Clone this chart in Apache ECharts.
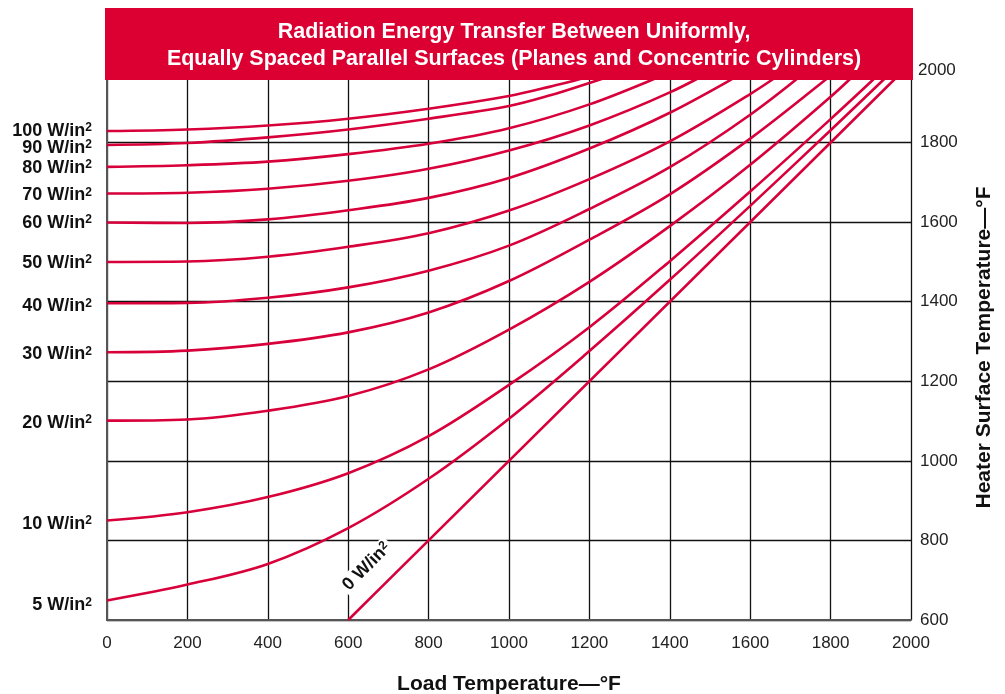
<!DOCTYPE html>
<html>
<head>
<meta charset="utf-8">
<title>Radiation Energy Transfer</title>
<script src="https://cdn.jsdelivr.net/npm/echarts@6/dist/echarts.min.js"></script>
<style>
  html, body { margin: 0; padding: 0; background: #fff; }
  #chart { width: 1005px; height: 694px; }
</style>
</head>
<body>
<div id="chart"></div>
<script>
// [load temperature °F, heater surface temperature °F]
const w100 = [[0, 1829], [200, 1833], [400, 1843], [600, 1860], [800, 1885], [1000, 1917], [1100, 1940], [1200, 1966], [1300, 2000]]
const w90 = [[0, 1794], [200, 1799], [400, 1813], [600, 1833], [800, 1860], [1000, 1892], [1100, 1918], [1200, 1950], [1350, 2000]]
const w80 = [[0, 1739], [200, 1743], [400, 1752], [600, 1771], [800, 1797], [1000, 1836], [1200, 1896], [1400, 1976], [1455, 2000]]
const w70 = [[0, 1672], [200, 1674], [400, 1684], [600, 1704], [800, 1734], [1000, 1780], [1200, 1843], [1400, 1926], [1540, 2000]]
const w60 = [[0, 1599], [200, 1598], [400, 1607], [600, 1630], [800, 1661], [1000, 1711], [1200, 1785], [1400, 1875], [1600, 1985], [1625, 2000]]
const w50 = [[0, 1500], [200, 1501], [400, 1513], [600, 1538], [800, 1572], [1000, 1629], [1200, 1708], [1400, 1803], [1600, 1922], [1715, 2000]]
const w40 = [[0, 1396], [200, 1397], [400, 1410], [600, 1436], [800, 1478], [1000, 1541], [1200, 1633], [1400, 1738], [1600, 1870], [1765, 2000]]
const w30 = [[0, 1273], [200, 1277], [400, 1294], [600, 1323], [800, 1373], [1000, 1452], [1200, 1556], [1400, 1670], [1600, 1810], [1800, 1968], [1840, 2000]]
const w20 = [[0, 1101], [200, 1104], [400, 1126], [600, 1163], [800, 1230], [1000, 1330], [1200, 1450], [1400, 1590], [1600, 1744], [1800, 1915], [1890, 2000]]
const w10 = [[0, 850], [200, 871], [400, 909], [600, 969], [800, 1062], [1000, 1191], [1200, 1336], [1400, 1502], [1600, 1677], [1800, 1859], [1950, 2000]]
const w5 = [[0, 649], [200, 689], [400, 741], [600, 831], [800, 955], [1000, 1106], [1200, 1276], [1400, 1455], [1600, 1641], [1800, 1831], [1975, 2000]]
const w0 = [[600, 600], [690, 690], [2000, 2000]]

const fluxLabels = ['100', '90', '80', '70', '60', '50', '40', '30', '20', '10', '5']
const fluxCurves = [w100, w90, w80, w70, w60, w50, w40, w30, w20, w10, w5]

const RED = '#D8003A'
const FONT = '"Liberation Sans", Arial, Helvetica, sans-serif'

// small vertical nudges so the left labels sit like the printed ones
const labelNudge = { '100': 0, '90': 3, '80': 1, '60': 0, '50': 1, '40': 3, '30': 2, '20': 2, '10': 3, '5': 5 }

const rich = {
  n: { fontFamily: FONT, fontSize: 18, fontWeight: 'bold', color: '#111', lineHeight: 18 },
  s: { fontFamily: FONT, fontSize: 12, fontWeight: 'bold', color: '#111', lineHeight: 10, verticalAlign: 'top' }
}

const series = fluxCurves.map(function(pts, k) {
  const q = fluxLabels[k]
  return {
    name: q + ' W/in²',
    type: 'line',
    yAxisIndex: 0,
    data: pts.map(function(p, i) {
      return i === 0 ? { value: p, label: { show: true } } : p
    }),
    smooth: 0.35,
    symbol: 'circle',
    symbolSize: 0,
    showSymbol: true,
    lineStyle: { color: RED, width: 2.6 },
    itemStyle: { color: RED },
    label: {
      show: false,
      position: 'left',
      distance: 15,
      offset: [0, labelNudge[q] !== undefined ? labelNudge[q] : 2],
      formatter: '{n|' + q + ' W/in}{s|2}',
      rich: rich
    },
    silent: true,
    z: 3
  }
})

// 0 W/in² line, label sits beside it
series.push({
  name: '0 W/in²',
  type: 'line',
  yAxisIndex: 0,
  data: w0.map(function(p, i) {
    return i === 1 ? {
      value: p,
      label: {
        show: true,
        position: 'inside',
        offset: [0, -25],
        rotate: 45,
        backgroundColor: '#fff',
        padding: [1, 3, 1, 3],
        formatter: '{n|0 W/in}{s|2}',
        rich: rich
      }
    } : p
  }),
  symbol: 'circle',
  symbolSize: 0,
  showSymbol: true,
  lineStyle: { color: RED, width: 2.6 },
  itemStyle: { color: RED },
  silent: true,
  z: 4
})

const chart = echarts.init(document.getElementById('chart'))
chart.setOption({
  animation: false,
  backgroundColor: '#fff',
  title: {
    text: 'Radiation Energy Transfer Between Uniformly,\nEqually Spaced Parallel Surfaces (Planes and Concentric Cylinders)',
    left: 509,
    top: 14,
    textAlign: 'center',
    z: 20,
    textStyle: {
      color: '#fff',
      fontFamily: FONT,
      fontSize: 21.5,
      fontWeight: 'bold',
      lineHeight: 27
    }
  },
  graphic: [
    {
      type: 'rect',
      left: 105,
      top: 8,
      z: 10,
      shape: { width: 808, height: 72 },
      style: { fill: '#DC0032' }
    },
    {
      type: 'text',
      left: 918,
      top: 62,
      z: 10,
      style: { text: '2000', fill: '#222', font: '17px ' + FONT }
    }
  ],
  grid: {
    left: 107,
    right: 94,
    top: 63,
    bottom: 74,
    outerBoundsMode: 'none'
  },
  xAxis: {
    type: 'value',
    min: 0,
    max: 2000,
    interval: 200,
    name: 'Load Temperature—°F',
    nameLocation: 'middle',
    nameGap: 54,
    nameTextStyle: { fontFamily: FONT, fontSize: 21, fontWeight: 'bold', color: '#111' },
    axisLine: { show: true, lineStyle: { color: '#555', width: 2 } },
    axisTick: { show: false },
    axisLabel: {
      margin: 15,
      fontFamily: FONT,
      fontSize: 17,
      color: '#222',
      formatter: function(v) { return String(v) }
    },
    splitLine: { show: true, lineStyle: { color: '#111', width: 1.3 } }
  },
  yAxis: [
    {
      type: 'value',
      position: 'right',
      min: 600,
      max: 2000,
      interval: 200,
      name: 'Heater Surface Temperature—°F',
      nameLocation: 'middle',
      nameRotate: 90,
      nameGap: 63,
      nameTextStyle: { fontFamily: FONT, fontSize: 21, fontWeight: 'bold', color: '#111', padding: [0, 12, 0, 0] },
      axisLine: { show: true, lineStyle: { color: '#222', width: 1.5 } },
      axisTick: { show: false },
      axisLabel: {
        margin: 9,
        fontFamily: FONT,
        fontSize: 17,
        color: '#222',
        padding: [0, 0, 6, 0],
        formatter: function(v) { return v === 2000 ? '' : String(v) }
      },
      splitLine: { show: true, lineStyle: { color: '#111', width: 1.3 } }
    },
    {
      type: 'value',
      position: 'left',
      min: 600,
      max: 2000,
      interval: 200,
      axisLine: { show: true, lineStyle: { color: '#555', width: 2 } },
      axisTick: { show: false },
      axisLabel: { show: false },
      splitLine: { show: false }
    }
  ],
  series: series
})
</script>
</body>
</html>
